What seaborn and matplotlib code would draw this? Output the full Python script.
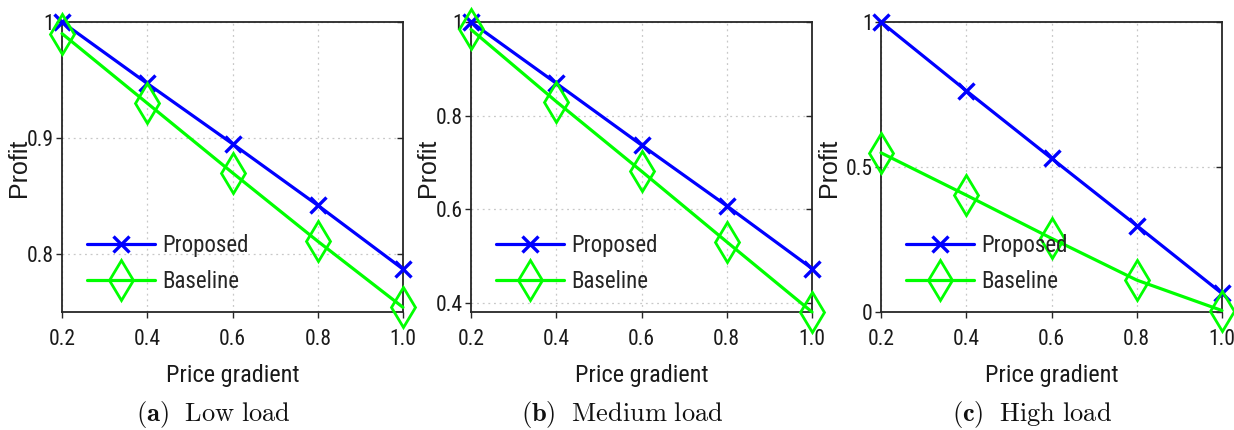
import matplotlib
matplotlib.use("Agg")
import matplotlib.pyplot as plt
import matplotlib.lines as mlines
from matplotlib import font_manager
import pandas as pd
import seaborn as sns

# ---- data ----
price_gradient = [0.2, 0.4, 0.6, 0.8, 1.0]
x_tick_labels = ["0.2", "0.4", "0.6", "0.8", "1.0"]

low_proposed = [1.0, 0.947, 0.895, 0.842, 0.787]
low_baseline = [0.990, 0.930, 0.870, 0.811, 0.754]

medium_proposed = [1.0, 0.869, 0.737, 0.607, 0.473]
medium_baseline = [0.984, 0.830, 0.681, 0.530, 0.380]

high_proposed = [1.0, 0.763, 0.530, 0.298, 0.064]
high_baseline = [0.549, 0.403, 0.254, 0.110, 0.005]

panel_captions = [("(a)", "Low load"), ("(b)", "Medium load"), ("(c)", "High load")]
y_ticks = [[0.8, 0.9, 1.0], [0.4, 0.6, 0.8, 1.0], [0.0, 0.5, 1.0]]
y_tick_labels = [["0.8", "0.9", "1"], ["0.4", "0.6", "0.8", "1"], ["0", "0.5", "1"]]
y_limits = [(0.75, 1.0), (0.38, 1.0), (0.0, 1.0)]

series_names = ["Proposed", "Baseline"]
series_colors = {"Proposed": "#0000ff", "Baseline": "#00ff00"}
series_markers = {"Proposed": "x", "Baseline": "d"}

sns.set_theme(style="ticks")


def pick_narrow_font():
    """Return (family, stretch) for the narrowest sans face available."""
    entries = font_manager.fontManager.ttflist
    names = {f.name for f in entries}
    for cand in ["Liberation Sans Narrow", "Roboto Condensed", "Open Sans Condensed",
                 "Noto Sans Condensed", "DejaVu Sans Condensed"]:
        if cand in names:
            return cand, "normal"
    for f in entries:
        if f.name == "DejaVu Sans" and str(f.stretch) in ("condensed", "semi-condensed"):
            return "DejaVu Sans", "condensed"
    return "DejaVu Sans", "normal"


narrow_family, narrow_stretch = pick_narrow_font()
plt.rcParams["font.family"] = [narrow_family, "DejaVu Sans"]
plt.rcParams["font.stretch"] = narrow_stretch
plt.rcParams["mathtext.fontset"] = "cm"

fig = plt.figure(figsize=(12.34, 4.30), dpi=100)
lefts = [62 / 1234, 471 / 1234, 881 / 1234]
width = 341 / 1234
bottom = 1 - 312 / 430
height = 290 / 430
caption_shift = 19 / 1234
ylabel_x = [-0.092, -0.092, -0.118]

panels = [
    (low_proposed, low_baseline),
    (medium_proposed, medium_baseline),
    (high_proposed, high_baseline),
]

for i, (prop, base) in enumerate(panels):
    ax = fig.add_axes([lefts[i], bottom, width, height])
    df = pd.DataFrame({
        "gradient": price_gradient * 2,
        "profit": prop + base,
        "method": ["Proposed"] * len(prop) + ["Baseline"] * len(base),
    })
    for name in series_names:
        sub = df[df["method"] == name]
        is_x = series_markers[name] == "x"
        sns.lineplot(
            data=sub, x="gradient", y="profit", ax=ax,
            color=series_colors[name], marker=series_markers[name],
            ms=11 if is_x else 20, mew=2.4 if is_x else 2.0,
            mec=series_colors[name], mfc="none",
            lw=2.3, label=name, clip_on=False, zorder=3,
        )

    ax.set_xlim(0.2, 1.0)
    ax.set_ylim(*y_limits[i])
    ax.set_xticks(price_gradient)
    ax.set_xticklabels(x_tick_labels)
    ax.set_yticks(y_ticks[i])
    ax.set_yticklabels(y_tick_labels[i])
    ax.tick_params(axis="both", labelsize=15.5, colors="#262626", length=4,
                   width=1.0, direction="out", pad=2)
    ax.tick_params(axis="x", pad=8)
    ax.tick_params(right=True, top=False)
    # right-hand ticks point into the box
    for t in ax.yaxis.get_major_ticks():
        t.tick2line.set_marker(mlines.TICKLEFT)
    for tl in ax.get_xticklabels() + ax.get_yticklabels():
        tl.set_color("#1a1a1a")
    ax.grid(True, linestyle=(0, (1.5, 3)), color="#c8c8c8", linewidth=0.9)
    for sp in ax.spines.values():
        sp.set_visible(True)
        sp.set_color("#262626")
        sp.set_linewidth(1.3)

    ax.set_xlabel("Price gradient", fontsize=17.5, color="#1a1a1a")
    ax.xaxis.set_label_coords(0.5, -0.18)
    ax.set_ylabel("Profit", fontsize=18, family=["Liberation Sans", "DejaVu Sans"],
                  fontstretch="normal", color="#1a1a1a")
    ax.yaxis.set_label_coords(ylabel_x[i], 0.497)

    ax.legend(loc="lower left", bbox_to_anchor=(0.045, 0.035), frameon=False,
              fontsize=16.5, handlelength=3.0, handletextpad=0.3,
              labelspacing=0.55, borderaxespad=0.0, numpoints=1)

    tag, desc = panel_captions[i]
    fig.text(lefts[i] + width / 2 - caption_shift, 1 - 415 / 430,
             r"$\mathbf{" + tag + r"}\ \ \mathrm{" + desc.replace(" ", r"\ ") + r"}$",
             ha="center", va="center", fontsize=19, color="#111111")

fig.savefig("out.png", dpi=100)
